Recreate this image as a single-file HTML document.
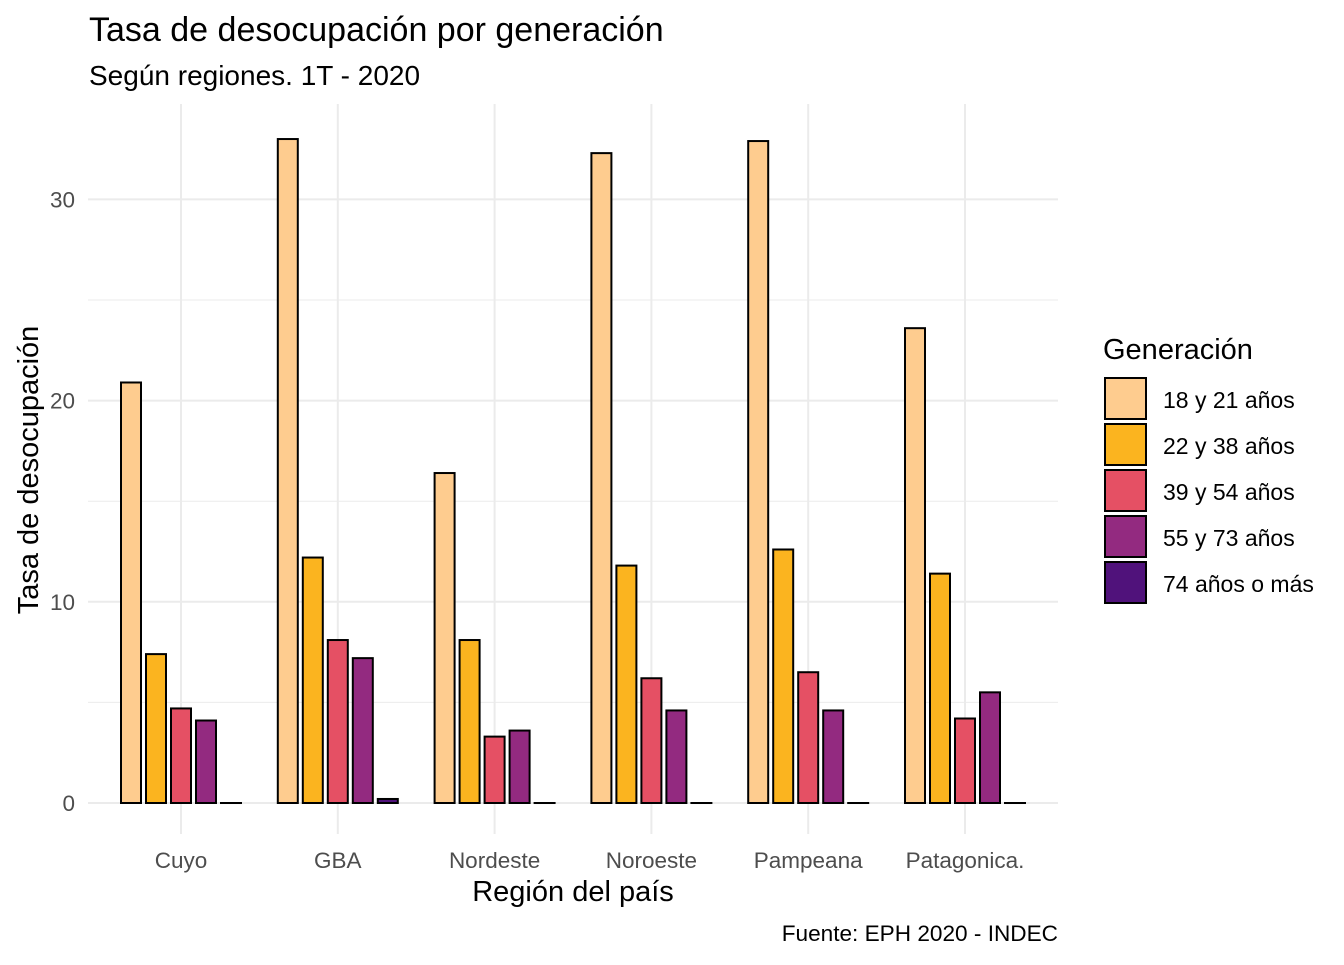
<!DOCTYPE html>
<html><head><meta charset="utf-8"><style>
body{margin:0;background:#fff;font-family:"Liberation Sans",sans-serif}
svg text{font-family:"Liberation Sans",sans-serif}
</style></head><body>
<svg id="c" width="1344" height="960" xmlns="http://www.w3.org/2000/svg">
<text x="89" y="41" font-size="34" fill="#000">Tasa de desocupación por generación</text>
<text x="89" y="85" font-size="28" fill="#000">Según regiones. 1T - 2020</text>
<g id="grid"></g><g id="bars"></g><g id="axes"></g><g id="legend"></g>
<text x="573" y="901" font-size="29" text-anchor="middle">Región del país</text>
<text transform="translate(38,470) rotate(-90)" font-size="29" text-anchor="middle">Tasa de desocupación</text>
<text x="1058" y="941" font-size="22.6" text-anchor="end">Fuente: EPH 2020 - INDEC</text>
</svg>
<script>
const categories=["Cuyo","GBA","Nordeste","Noroeste","Pampeana","Patagonica."];
const series=["18 y 21 años","22 y 38 años","39 y 54 años","55 y 73 años","74 años o más"];
const colors=["#FECC8F","#FBB41F","#E55064","#932A80","#50127B"];
const s1=[20.9,33.0,16.4,32.3,32.9,23.6];
const s2=[7.4,12.2,8.1,11.8,12.6,11.4];
const s3=[4.7,8.1,3.3,6.2,6.5,4.2];
const s4=[4.1,7.2,3.6,4.6,4.6,5.5];
const s5=[0,0.2,0,0,0,0];
const yTicks=[0,10,20,30];
const yMinor=[5,15,25];
const values=[s1,s2,s3,s4,s5];
const NS="http://www.w3.org/2000/svg";
const L=88,R=1058,T=104,B=834;
const y=v=>803-v*20.12;
const step=156.8;
const x=i=>181+step*i;
function mk(tag,attrs,parent,txt){const e=document.createElementNS(NS,tag);for(const k in attrs)e.setAttribute(k,attrs[k]);if(txt!==undefined)e.textContent=txt;document.getElementById(parent).appendChild(e);return e;}
yMinor.forEach(v=>{const e=mk("line",{x1:L,x2:R,y1:y(v),y2:y(v),stroke:"#ebebeb","stroke-width":1},"grid");

});
yTicks.forEach(v=>{const e=mk("line",{x1:L,x2:R,y1:y(v),y2:y(v),stroke:"#ebebeb","stroke-width":2},"grid");


const t=mk("text",{x:75,y:y(v)+8,"font-size":22.5,fill:"#4d4d4d","text-anchor":"end"},"axes",v);

});
categories.forEach((c,i)=>{const e=mk("line",{x1:x(i),x2:x(i),y1:T,y2:B,stroke:"#ebebeb","stroke-width":2},"grid");


const t=mk("text",{x:x(i),y:868,"font-size":22.5,fill:"#4d4d4d","text-anchor":"middle"},"axes",c);


values.forEach((s,j)=>{const bx=x(i)-62+25*j+2;const v=s[i];
const r=mk("rect",{x:bx,y:y(v),width:20,height:Math.max(y(0)-y(v),0.01),fill:colors[j],stroke:"#000","stroke-width":2},"bars");

});});
mk("text",{x:1103,y:359,"font-size":29},"legend","Generación");
series.forEach((s,j)=>{const yy=378+46*j;
const r=mk("rect",{x:1105,y:yy,width:41,height:41,fill:colors[j],stroke:"#000","stroke-width":2},"legend");


const t=mk("text",{x:1163,y:yy+30,"font-size":23},"legend",s);

});
</script>
</body></html>
